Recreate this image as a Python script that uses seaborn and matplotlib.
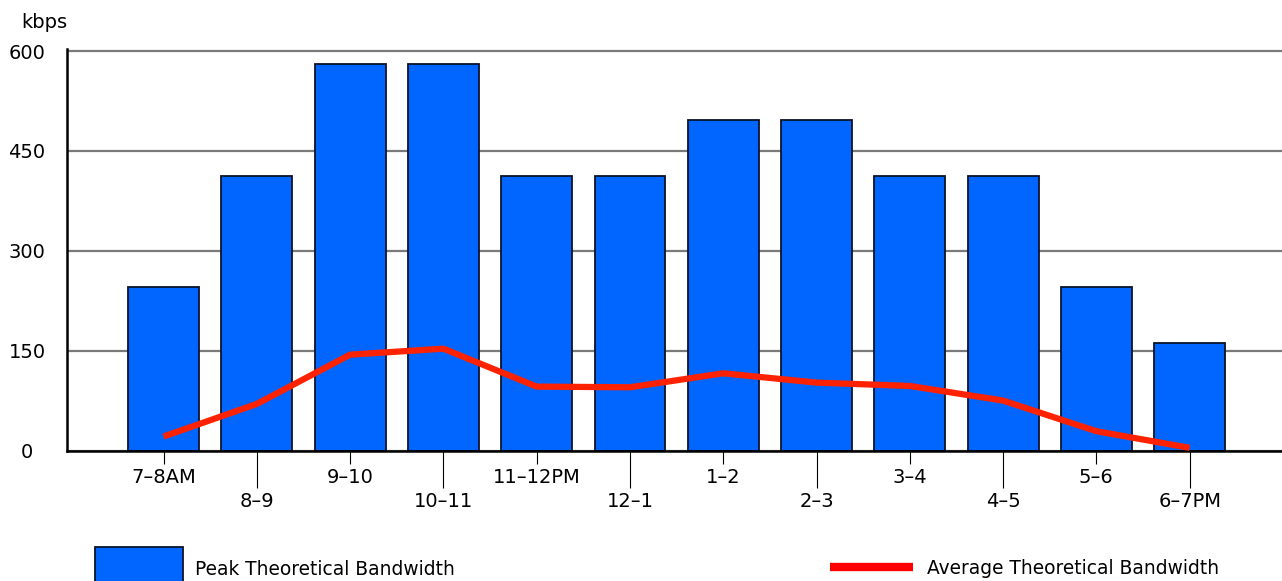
import numpy as np
import pandas as pd
import matplotlib
matplotlib.use("Agg")
import matplotlib.pyplot as plt
import seaborn as sns

hours=["7–8AM","8–9","9–10","10–11","11–12PM","12–1","1–2","2–3","3–4","4–5","5–6","6–7PM"]
peak=[245,413,581,581,413,413,497,497,413,413,245,162]
average=[21,70,144,153,96,95,116,102,97,75,29,4]
yticks=[0,150,300,450,600]

sns.set_style("white")
plt.rcParams["font.family"]=["DejaVu Sans"]

df=pd.DataFrame({"hour":hours,"peak":peak,"average":average})

W,H=1282,581
fig=plt.figure(figsize=(W/100,H/100),dpi=100)
ax=fig.add_axes([67/W,1-450.5/H,1-67/W,(450.5-48.5)/H])

#bars + line
sns.barplot(data=df,x="hour",y="peak",color="#0066ff",saturation=1,width=0.76,
            edgecolor="#081428",linewidth=1.3,errorbar=None,ax=ax,zorder=2)
sns.lineplot(data=df,x="hour",y="average",color="#ff2200",linewidth=4.5,sort=False,ax=ax,zorder=3)
if ax.get_legend():
    ax.get_legend().remove()
line_h=ax.lines[0]
line_h.set_solid_capstyle("butt")

ax.set_xlim(-1.035,11.99)
ax.set_ylim(0,604)
ax.set_xlabel("")
ax.set_ylabel("")

#alternating tick labels
ax.set_xticks(range(0,len(hours),2))
ax.set_xticklabels(hours[::2])
ax.set_xticks(range(1,len(hours),2),minor=True)
ax.set_xticklabels(hours[1::2],minor=True)
ax.tick_params(axis="x",which="both",bottom=True,color="black",width=0.8,labelcolor="black",labelsize=14,pad=3)
ax.tick_params(axis="x",which="major",length=9.4)
ax.tick_params(axis="x",which="minor",length=26.6)

ax.set_yticks(yticks)
ax.tick_params(axis="y",left=False,length=0,pad=28.8,labelsize=14,labelcolor="black")
for t in ax.get_yticklabels():
    t.set_horizontalalignment("center")

ax.yaxis.grid(True,color="#7a7a7a",linewidth=1.6)
ax.xaxis.grid(False)
ax.set_axisbelow(True)
sns.despine(ax=ax)
for s in ["left","bottom"]:
    ax.spines[s].set_color("black")
    ax.spines[s].set_linewidth(1.8)

fig.text(21/W,1-22/H,"kbps",fontsize=14,va="center",color="black")

#legend
fs=13.4
px=fs*100/72
bar_h=ax.patches[0]
fig.legend([bar_h],["Peak Theoretical Bandwidth"],loc="upper left",bbox_to_anchor=(95/W,1-547/H),
           frameon=False,fontsize=fs,handlelength=88/px,handleheight=3.38,handletextpad=12/px,
           borderpad=0,borderaxespad=0,labelcolor="black")
leg2=fig.legend([line_h],["Average Theoretical Bandwidth"],loc="center left",bbox_to_anchor=(830/W,1-568/H),
           frameon=False,fontsize=fs,handlelength=83/px,handletextpad=14/px,
           borderpad=0,borderaxespad=0,labelcolor="black")
for l in leg2.get_lines():
    l.set_linewidth(6)
    l.set_color("#ff0000")
    l.set_solid_capstyle("butt")

fig.savefig("out.png",dpi=100)
